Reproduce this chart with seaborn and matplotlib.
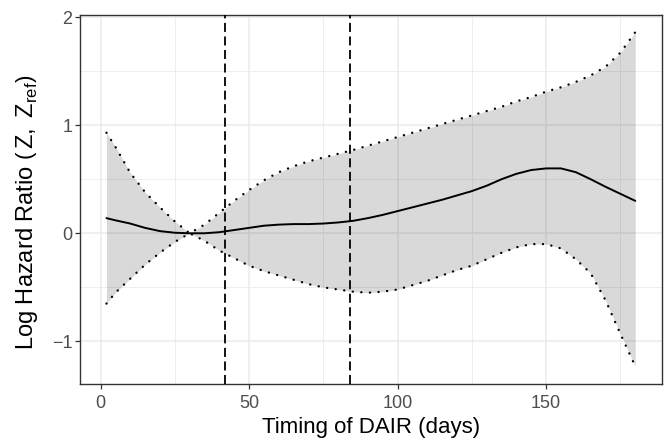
import numpy as np
import pandas as pd
import matplotlib
matplotlib.use("Agg")
import matplotlib.pyplot as plt
import seaborn as sns

# ---- data ----
days = [2, 5, 10, 15, 20, 25, 30, 35, 40, 45, 50, 55, 60, 65, 70, 75, 80, 85, 90,
        95, 100, 105, 110, 115, 120, 125, 130, 135, 140, 145, 150, 155, 160, 165,
        170, 175, 180]
log_hr = [0.14, 0.12, 0.09, 0.05, 0.02, 0.005, 0.0, 0.0, 0.01, 0.03, 0.05, 0.07,
          0.08, 0.085, 0.085, 0.09, 0.10, 0.115, 0.14, 0.17, 0.205, 0.24, 0.275,
          0.31, 0.35, 0.39, 0.44, 0.50, 0.55, 0.585, 0.60, 0.60, 0.565, 0.50,
          0.43, 0.365, 0.30]
upper = [0.93, 0.80, 0.56, 0.38, 0.24, 0.11, 0.0, 0.08, 0.19, 0.30, 0.40, 0.49,
         0.565, 0.62, 0.665, 0.70, 0.735, 0.77, 0.81, 0.85, 0.89, 0.93, 0.97, 1.01,
         1.05, 1.09, 1.13, 1.17, 1.22, 1.26, 1.31, 1.35, 1.40, 1.46, 1.54, 1.67,
         1.86]
lower = [-0.65, -0.55, -0.42, -0.29, -0.18, -0.08, 0.0, -0.07, -0.16, -0.23,
         -0.30, -0.35, -0.39, -0.43, -0.47, -0.50, -0.52, -0.54, -0.55, -0.54,
         -0.52, -0.48, -0.44, -0.39, -0.34, -0.30, -0.24, -0.18, -0.13, -0.10,
         -0.10, -0.14, -0.24, -0.37, -0.62, -0.93, -1.23]
cutoffs = [42, 84]
x_ticks = [0, 50, 100, 150]
y_ticks = [-1, 0, 1, 2]

df = pd.DataFrame({"days": days, "fit": log_hr, "upper": upper, "lower": lower})

sns.set_theme(style="whitegrid")
plt.rcParams["font.family"] = ["Liberation Sans", "DejaVu Sans"]
plt.rcParams["mathtext.fontset"] = "custom"
plt.rcParams["mathtext.rm"] = "Liberation Sans"
plt.rcParams["mathtext.it"] = "Liberation Sans:italic"

fig = plt.figure(figsize=(6.64, 4.40), dpi=100)
ax = fig.add_axes([0.1205, 0.127, 0.876, 0.838])
ax.set_axisbelow(True)

ax.fill_between(df["days"], df["lower"], df["upper"], color="black", alpha=0.15,
                linewidth=0, zorder=1)
dot = (0, (0.05, 3.6))
sns.lineplot(data=df, x="days", y="upper", ax=ax, color="black",
             linestyle=dot, linewidth=1.7, dash_capstyle="round", zorder=3)
sns.lineplot(data=df, x="days", y="lower", ax=ax, color="black",
             linestyle=dot, linewidth=1.7, dash_capstyle="round", zorder=3)
sns.lineplot(data=df, x="days", y="fit", ax=ax, color="black", linewidth=1.4, zorder=4)
for c in cutoffs:
    ax.axvline(c, color="black", linestyle=(0, (5.0, 2.5)), linewidth=1.3, zorder=5)

ax.set_xlim(-6.9, 188.9)
ax.set_ylim(-1.395, 2.015)
ax.set_xticks(x_ticks)
ax.set_yticks(y_ticks)
ax.set_xticklabels([str(t) for t in x_ticks])
ax.set_yticklabels(["\u22121", "0", "1", "2"])
ax.set_xticks([25, 75, 125, 175], minor=True)
ax.set_yticks([-0.5, 0.5, 1.5], minor=True)

ax.grid(which="major", color="#EBEBEB", linewidth=1.1)
ax.grid(which="minor", color="#EBEBEB", linewidth=0.6)
ax.tick_params(which="major", direction="out", length=3.5, width=0.9,
               color="#333333", labelsize=13, labelcolor="#4D4D4D",
               bottom=True, left=True)
ax.tick_params(axis="x", which="major", pad=4)
ax.tick_params(axis="y", which="major", pad=2)
ax.tick_params(which="minor", length=0)
for s in ax.spines.values():
    s.set_color("#333333")
    s.set_linewidth(1.0)
    s.set_visible(True)

ax.set_xlabel("Timing of DAIR (days)", fontsize=16, color="black", labelpad=4)
ax.set_ylabel(r"Log Hazard Ratio $\left(\mathrm{\,Z,\ Z_{ref}}\right)$", fontsize=17,
              color="black", labelpad=8)
ax.yaxis.label.set_y(0.465)

fig.savefig("out.png", dpi=100)
